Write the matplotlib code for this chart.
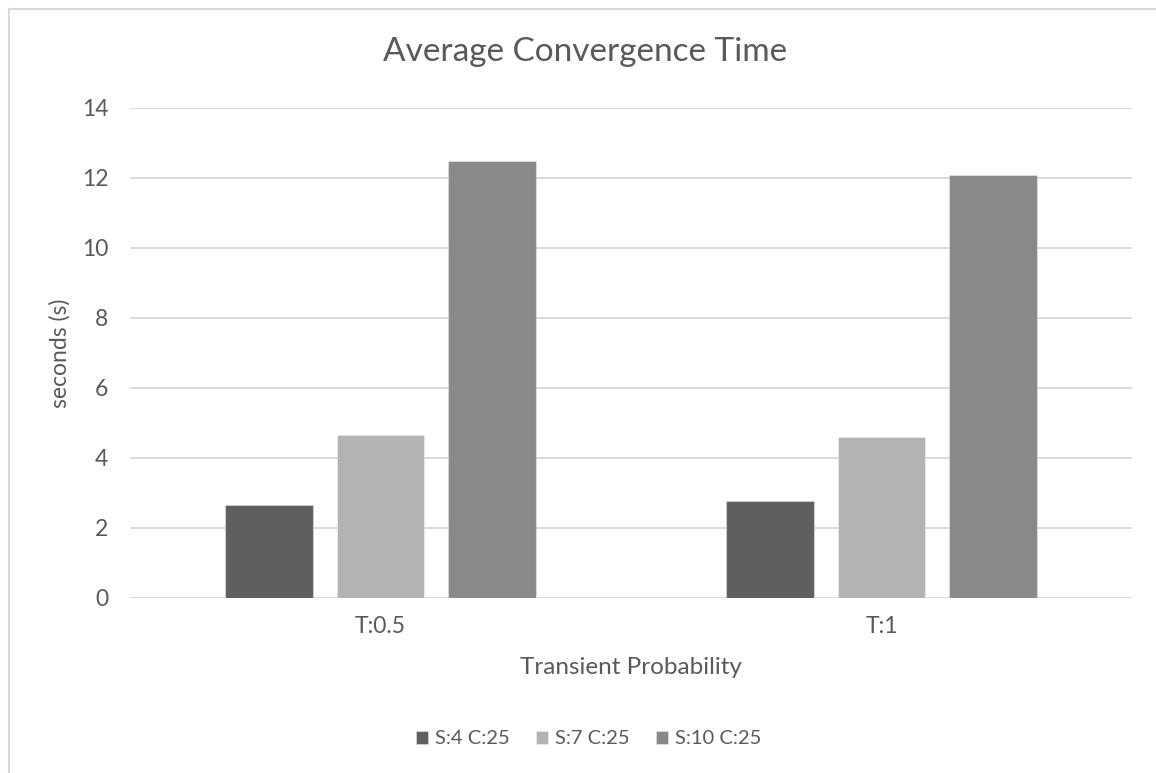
import numpy as np
import matplotlib
matplotlib.use("Agg")
import matplotlib.pyplot as plt
from matplotlib.lines import Line2D

categories = ["T:0.5", "T:1"]
series_names = ["S:4 C:25", "S:7 C:25", "S:10 C:25"]
s4_c25 = [2.66, 2.77]
s7_c25 = [4.65, 4.60]
s10_c25 = [12.48, 12.08]
y_ticks = [0, 2, 4, 6, 8, 10, 12, 14]

COLORS = ["#5f5f5f", "#b3b3b3", "#898989"]
TEXT = "#595959"
GRID = "#d9d9d9"

W, H = 1156, 773


def fx(px):
    return px / W


def fy(py):
    return 1 - py / H


plt.rcParams["font.family"] = ["Lato", "DejaVu Sans"]
fig = plt.figure(figsize=(W / 100, H / 100), dpi=100, facecolor="white")

# chart frame (only top and left edges fall inside the image)
fig.add_artist(Line2D([fx(9), fx(9)], [fy(9), 0], color=GRID, lw=1.5, transform=fig.transFigure))
fig.add_artist(Line2D([fx(9), 1], [fy(9), fy(9)], color=GRID, lw=1.5, transform=fig.transFigure))

ax = fig.add_axes([fx(130), fy(598), fx(1132) - fx(130), fy(108) - fy(598)])
for spine in ax.spines.values():
    spine.set_visible(False)

x = np.arange(len(categories))
width = 0.174
step = 0.2226
handles = []
for i, (name, vals) in enumerate(zip(series_names, [s4_c25, s7_c25, s10_c25])):
    b = ax.bar(x + (i - 1) * step, vals, width=width, color=COLORS[i],
               edgecolor=(1, 1, 1, 0.35), linewidth=0.8, zorder=3, label=name)
    handles.append(b)

ax.set_xlim(-0.5, 1.5)
ax.set_ylim(0, 14)
ax.set_yticks(y_ticks)
ax.set_xticks(x)
ax.set_xticklabels(categories)
ax.yaxis.grid(True, color=GRID, linewidth=1.4, zorder=0)
ax.set_axisbelow(True)
ax.tick_params(axis="both", length=0, labelsize=16.5, labelcolor=TEXT)
ax.tick_params(axis="y", pad=15.5)
ax.tick_params(axis="x", pad=13)

fig.text(fx(585), fy(52), "Average Convergence Time", fontsize=24, color=TEXT,
         ha="center", va="center")
fig.text(fx(631), fy(667), "Transient Probability", fontsize=17.5, color=TEXT,
         ha="center", va="center")
fig.text(fx(60), fy(353), "seconds (s)", fontsize=16.5, color=TEXT,
         ha="center", va="center", rotation=90)

fig.legend(handles=handles, labels=series_names, loc="center", ncol=3,
           bbox_to_anchor=(fx(589), fy(739)), frameon=False, fontsize=14.5,
           labelcolor=TEXT, handlelength=0.6, handleheight=0.6,
           handletextpad=0.35, columnspacing=1.3)

fig.savefig("out.png", dpi=100, facecolor="white")
